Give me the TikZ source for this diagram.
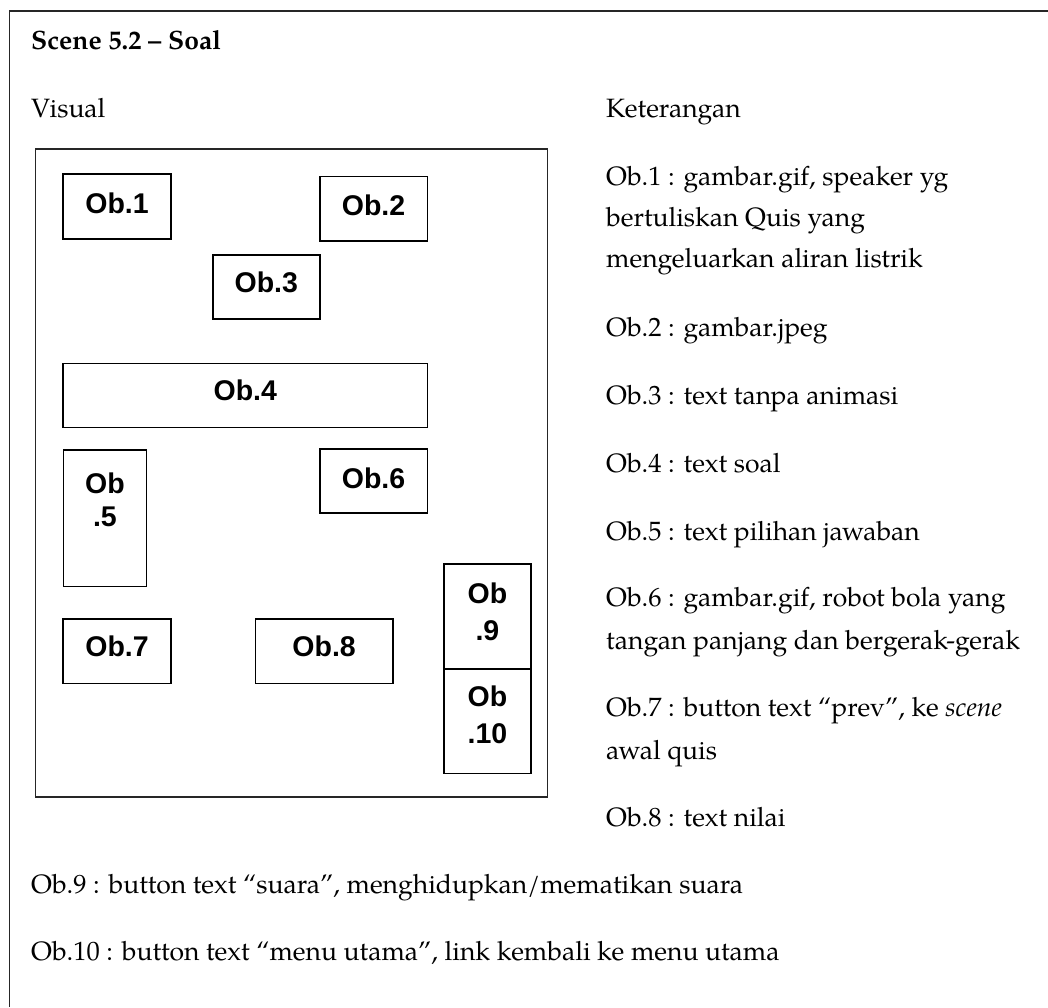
\documentclass[tikz,border=0pt]{standalone}
\usepackage{fontspec}
\setmainfont{TeX Gyre Pagella}
\newfontfamily\labelfont{Liberation Sans}
\begin{document}
\begin{tikzpicture}[x=1pt,y=-1pt,
  obbox/.style={draw, line width=1.5pt, inner sep=0pt, anchor=north west},
  oblabel/.style={font=\labelfont\bfseries\fontsize{28.5}{28.5}\selectfont, anchor=base, inner sep=0pt},
  desc/.style={font=\fontsize{26.5}{26.5}\selectfont, anchor=base west, inner sep=0pt},
  frameline/.style={line width=1.8pt, black!85}]
\useasboundingbox (0,0) rectangle (1048,1007);
\fill[white] (0,0) rectangle (1048,1007);

% outer table cell (runs past the right and bottom edges)
\draw[frameline] (1048,10.7) -- (9.5,10.7) -- (9.5,1007);

% headings
\node[desc, font=\bfseries\fontsize{26.5}{26.5}\selectfont] (title) at (31,49) {Scene 5.2 – Soal};
\node[desc] (visual) at (31,117) {Visual};
\node[desc] (ket) at (606,117) {Keterangan};

% screen layout frame
\draw[line width=1.5pt, black!85] (35.5,149) rectangle (547.5,797);

% object boxes
\node[obbox, minimum width=108pt, minimum height=65pt] (ob1) at (62.3,173.3) {};
\node[obbox, minimum width=107.5pt, minimum height=64.5pt] (ob2) at (319,175.7) {};
\node[obbox, minimum width=107pt, minimum height=64pt] (ob3) at (212,254) {};
\node[obbox, minimum width=364.5pt, minimum height=64pt] (ob4) at (62.3,362.7) {};
\node[obbox, minimum width=83pt, minimum height=136.7pt] (ob5) at (62.7,449) {};
\node[obbox, minimum width=107.5pt, minimum height=64pt] (ob6) at (319,448) {};
\node[obbox, minimum width=108pt, minimum height=64.7pt] (ob7) at (62.3,618) {};
\node[obbox, minimum width=137.3pt, minimum height=64.7pt] (ob8) at (254.7,618) {};
\node[obbox, minimum width=86.7pt, minimum height=104.7pt] (ob9) at (443.3,563.3) {};
\node[obbox, minimum width=86.7pt, minimum height=104.7pt] (ob10) at (443.3,668) {};

% object labels
\node[oblabel] (l1) at ([yshift=-40pt]ob1.north) {Ob.1};
\node[oblabel] (l2) at ([yshift=-39.3pt]ob2.north) {Ob.2};
\node[oblabel] (l3) at ([yshift=-38.7pt]ob3.north) {Ob.3};
\node[oblabel] (l4) at ([yshift=-38pt]ob4.north) {Ob.4};
\node[oblabel] (l5a) at ([yshift=-44.3pt]ob5.north) {Ob};
\node[oblabel] (l5b) at ([yshift=-77.3pt]ob5.north) {.5};
\node[oblabel] (l6) at ([yshift=-40pt]ob6.north) {Ob.6};
\node[oblabel] (l7) at ([yshift=-38pt]ob7.north) {Ob.7};
\node[oblabel] (l8) at ([yshift=-38pt]ob8.north) {Ob.8};
\node[oblabel] (l9a) at ([yshift=-40pt]ob9.north) {Ob};
\node[oblabel] (l9b) at ([yshift=-77.3pt]ob9.north) {.9};
\node[oblabel] (l10a) at ([yshift=-38.7pt]ob10.north) {Ob};
\node[oblabel] (l10b) at ([yshift=-75.3pt]ob10.north) {.10};

% descriptions
\node[desc] (d1a) at (606,185) {Ob.1 : gambar.gif, speaker yg};
\node[desc] (d1b) at (606,226.7) {bertuliskan Quis yang};
\node[desc] (d1c) at (606,267.7) {mengeluarkan aliran listrik};
\node[desc] (d2) at (606,336) {Ob.2 : gambar.jpeg};
\node[desc] (d3) at (606,404) {Ob.3 : text tanpa animasi};
\node[desc] (d4) at (606,472.7) {Ob.4 : text soal};
\node[desc] (d5) at (606,540) {Ob.5 : text pilihan jawaban};
\node[desc] (d6a) at (606,606) {Ob.6 : gambar.gif, robot bola yang};
\node[desc] (d6b) at (606,649) {tangan panjang dan bergerak-gerak};
\node[desc] (d7a) at (606,716.7) {Ob.7 : button text “prev”, ke \textit{scene}};
\node[desc] (d7b) at (606,759) {awal quis};
\node[desc] (d8) at (606,826.7) {Ob.8 : text nilai};
\node[desc] (d9) at (31,893.3) {Ob.9 : button text “suara”, menghidupkan/mematikan suara};
\node[desc] (d10) at (31,960.7) {Ob.10 : button text “menu utama”, link kembali ke menu utama};
\end{tikzpicture}
\end{document}
